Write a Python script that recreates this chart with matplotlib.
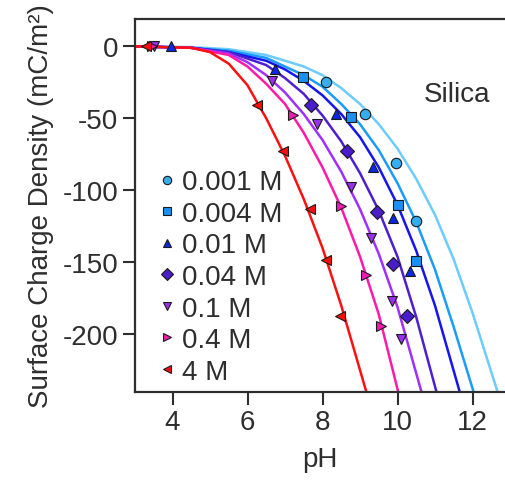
import matplotlib.pyplot as plt

plt.rcParams['font.family'] = ['Liberation Sans', 'DejaVu Sans']

labels = ['0.001 M', '0.004 M', '0.01 M', '0.04 M', '0.1 M', '0.4 M', '4 M']
markers = ['o', 's', '^', 'D', 'v', '>', '<']
mcolors = ['#35aef0', '#1a8ff5', '#0c28e4', '#4a1ccc', '#9a30ee', '#f01cb0', '#ff0a0a']
lcolors = ['#6cccff', '#1a9cff', '#1515f0', '#4d1fd0', '#a030ff', '#ff1aa8', '#ff1010']

# measured points (pH, charge density)
pts_ph = [
    [8.1, 9.13, 9.95, 10.5],
    [7.47, 8.77, 10.02, 10.5],
    [3.95, 6.73, 8.35, 9.35, 9.88, 10.33],
    [7.69, 8.64, 9.44, 9.88, 10.24],
    [3.5, 6.64, 7.84, 8.77, 9.28, 9.84, 10.09],
    [3.45, 7.22, 8.5, 9.17, 9.57],
    [3.3, 6.24, 6.95, 7.66, 8.1, 8.46],
]
pts_q = [
    [-25, -47, -81, -121],
    [-21.5, -49, -110, -149],
    [0, -16, -47, -84, -119, -156],
    [-41, -72.5, -115, -151, -187],
    [0, -24, -54, -98, -133, -177, -203],
    [0, -48, -111, -159, -194],
    [0, -41, -73, -113, -148, -187],
]

# fitted curves
fit_ph = [
    [3, 4.5, 5.5, 6.5, 7.5, 8.0, 8.5, 9.0, 9.5, 10.0, 10.5, 11.0, 11.5, 12.0, 12.67],
    [3, 4.5, 5.5, 6.5, 7.5, 8.0, 8.5, 9.0, 9.5, 10.0, 10.5, 11.0, 11.5, 12.03],
    [3, 4.5, 5.5, 6.5, 7.0, 7.5, 8.0, 8.5, 9.0, 9.5, 10.0, 10.5, 11.0, 11.66],
    [3, 4.5, 5.5, 6.5, 7.0, 7.5, 8.0, 8.5, 9.0, 9.5, 10.0, 10.5, 11.04],
    [3, 4.5, 5.5, 6.0, 6.5, 7.0, 7.5, 8.0, 8.5, 9.0, 9.5, 10.0, 10.64],
    [3, 4.5, 5.5, 6.0, 6.5, 7.0, 7.5, 8.0, 8.5, 9.0, 9.5, 10.02],
    [3, 4.5, 5.0, 5.5, 6.0, 6.5, 7.0, 7.5, 8.0, 8.5, 9.17],
]
fit_q = [
    [0, -0.5, -2, -6, -14, -20, -29, -40, -54, -71, -92, -117, -148, -185, -240],
    [0, -1, -3, -8, -20, -28, -40, -54, -72, -95, -122, -155, -195, -240],
    [0, -1, -4, -10, -16, -24, -34, -47, -63, -84, -110, -142, -180, -240],
    [0, -1, -4, -13, -22, -33, -48, -66, -88, -114, -146, -188, -240],
    [0, -1, -5, -11, -20, -32, -47, -65, -87, -113, -144, -181, -240],
    [0, -1, -6, -14, -26, -40, -60, -84, -112, -146, -186, -240],
    [0, -1, -4, -12, -27, -50, -76, -106, -140, -180, -240],
]

ink = '#2e2e2e'
fig = plt.figure(figsize=(5.05, 4.85), dpi=100)
ax = fig.add_axes([135 / 505, 92 / 485, 370 / 505, 373 / 485])

for i in range(len(labels)):
    ax.plot(fit_ph[i], fit_q[i], color=lcolors[i], lw=1.8, zorder=2)
for i in range(len(labels)):
    ax.plot(pts_ph[i], pts_q[i], ls='none', marker=markers[i], ms=7.5,
            mfc=mcolors[i], mec='#1a1a1a', mew=0.8, zorder=3, label=labels[i])

ax.set_xlim(3, 3 + 370 / 37.5)
ax.set_ylim(-240, 19)
ax.set_xticks([4, 6, 8, 10, 12])
ax.set_yticks([0, -50, -100, -150, -200])
ax.set_yticklabels(['0', '-50', '-100', '-150', '-200'])
ax.spines['right'].set_visible(False)
for s in ['left', 'top', 'bottom']:
    ax.spines[s].set_linewidth(1.6)
    ax.spines[s].set_color(ink)
ax.tick_params(direction='out', length=9, width=1.5, color=ink,
               labelsize=20, labelcolor=ink, pad=3)
ax.set_xlabel('pH', fontsize=20, color=ink, labelpad=8)
ax.set_ylabel('Surface Charge Density (mC/m²)', fontsize=20, color=ink, labelpad=6)

ax.text(0.87, 0.80, 'Silica', transform=ax.transAxes, fontsize=20,
        color=ink, ha='center', va='center')

ax.legend(loc='upper left', bbox_to_anchor=(0.064, 0.597), frameon=False,
          fontsize=20, borderaxespad=0, borderpad=0, handlelength=0.6,
          handletextpad=0.25, labelspacing=0.2, markerscale=0.8,
          labelcolor=ink)

fig.savefig('out.png', dpi=100)
